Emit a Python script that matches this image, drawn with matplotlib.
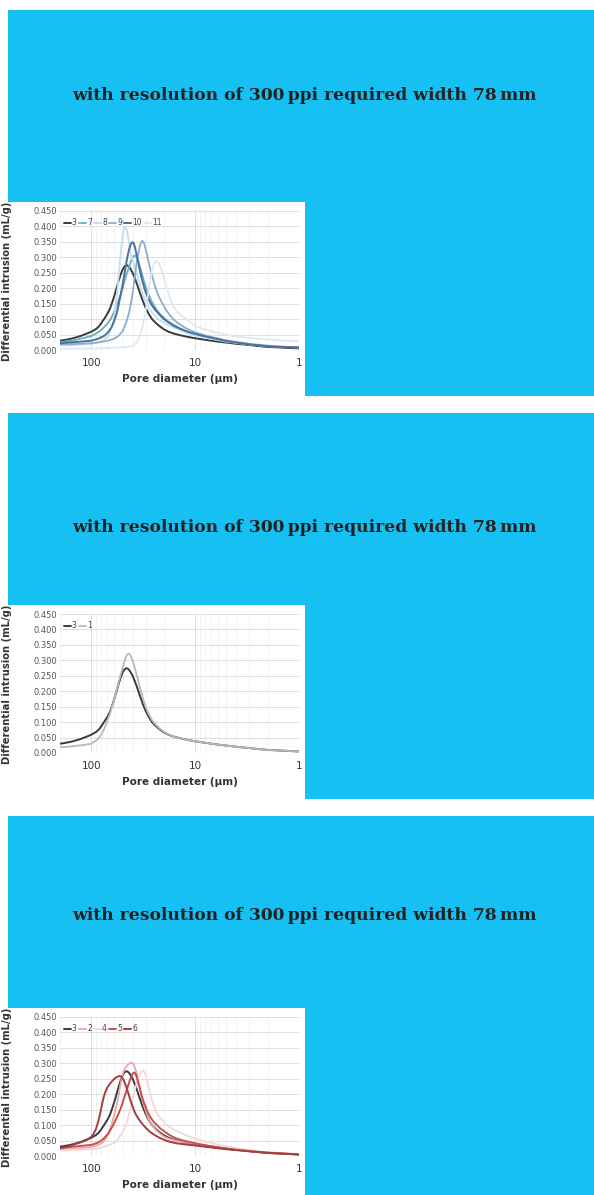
import numpy as np
import matplotlib
matplotlib.use('Agg')
import matplotlib.pyplot as plt
from matplotlib.patches import Rectangle
from matplotlib.ticker import LogLocator, NullFormatter, FixedLocator

# 数据：孔径 (µm) 与微分进汞量 (mL/g)
d3 = [200, 170, 150, 125, 100, 90, 85, 80, 75, 70, 66, 62, 58, 55, 52, 50, 48, 46.5, 45, 43.5, 42, 40, 38, 36, 34, 32,
      30, 28, 26, 24, 22, 20, 18, 16, 14, 12, 10, 8, 6, 5, 4, 3, 2.5, 2, 1.5, 1]
v3 = [0.030, 0.034, 0.038, 0.046, 0.059, 0.068, 0.075, 0.087, 0.101, 0.117, 0.134, 0.160, 0.192, 0.220, 0.245, 0.260,
      0.270, 0.274, 0.274, 0.270, 0.263, 0.250, 0.232, 0.210, 0.185, 0.160, 0.137, 0.117, 0.100, 0.088, 0.077, 0.067,
      0.059, 0.053, 0.048, 0.043, 0.038, 0.033, 0.027, 0.024, 0.020, 0.016, 0.013, 0.010, 0.008, 0.005]

d1 = [200, 170, 150, 125, 100, 90, 85, 80, 75, 70, 66, 62, 58, 55, 52, 50, 48, 46.5, 45, 43.5, 42, 40, 38, 36, 34, 32,
      30, 28, 26, 24, 22, 20, 18, 16, 14, 12, 10, 8, 6, 5, 4, 3, 2.5, 2, 1.5, 1]
v1 = [0.019, 0.020, 0.022, 0.025, 0.030, 0.040, 0.048, 0.060, 0.078, 0.105, 0.128, 0.158, 0.195, 0.225, 0.255, 0.275,
      0.295, 0.310, 0.320, 0.322, 0.317, 0.300, 0.274, 0.245, 0.212, 0.180, 0.150, 0.126, 0.106, 0.092, 0.080, 0.069,
      0.060, 0.053, 0.048, 0.043, 0.038, 0.033, 0.027, 0.024, 0.020, 0.016, 0.013, 0.010, 0.008, 0.005]

d7 = [200, 150, 125, 100, 90, 80, 70, 65, 60, 55, 52, 50, 47, 45, 43, 41, 39.5, 38, 36.5, 35, 33.5, 32, 30, 28, 26, 24,
      22, 20, 18, 16, 14, 12, 10, 8, 6, 5, 4, 3, 2, 1.5, 1]
v7 = [0.025, 0.031, 0.037, 0.045, 0.053, 0.065, 0.085, 0.100, 0.125, 0.158, 0.182, 0.200, 0.232, 0.252, 0.272, 0.292,
      0.303, 0.306, 0.300, 0.285, 0.262, 0.238, 0.205, 0.178, 0.155, 0.135, 0.118, 0.104, 0.092, 0.081, 0.070, 0.060,
      0.051, 0.043, 0.034, 0.029, 0.024, 0.018, 0.012, 0.010, 0.008]

d8 = [200, 150, 125, 100, 85, 75, 68, 63, 60, 57, 55, 53, 51, 49.5, 48, 47, 46, 45, 44, 43, 41.5, 40, 38, 36, 34, 32, 30,
      28, 26, 24, 22, 20, 18, 16, 14, 12, 10, 8, 6, 5, 4, 3, 2, 1]
v8 = [0.015, 0.016, 0.018, 0.020, 0.025, 0.033, 0.048, 0.075, 0.110, 0.170, 0.225, 0.285, 0.345, 0.380, 0.397, 0.399,
      0.394, 0.382, 0.362, 0.340, 0.310, 0.290, 0.265, 0.240, 0.212, 0.183, 0.158, 0.138, 0.122, 0.108, 0.097, 0.088,
      0.080, 0.072, 0.064, 0.055, 0.047, 0.040, 0.032, 0.027, 0.023, 0.018, 0.013, 0.008]

d9 = [200, 150, 100, 80, 69, 60, 55, 50, 47.5, 45, 43, 41, 39.5, 38, 36.5, 35, 34, 33, 32.4, 31.5, 30.5, 29.5, 28, 26.5,
      25, 24, 22.5, 21, 19.5, 18, 16.5, 15, 13.5, 12, 10, 8, 6, 5, 4, 3, 2, 1.5, 1]
v9 = [0.018, 0.019, 0.022, 0.026, 0.030, 0.037, 0.045, 0.060, 0.078, 0.100, 0.125, 0.160, 0.197, 0.240, 0.285, 0.318,
      0.338, 0.350, 0.353, 0.350, 0.338, 0.318, 0.283, 0.250, 0.220, 0.200, 0.175, 0.155, 0.135, 0.118, 0.102, 0.090,
      0.079, 0.069, 0.057, 0.047, 0.037, 0.031, 0.026, 0.020, 0.014, 0.011, 0.009]

d10 = [200, 150, 100, 85, 75, 69, 64, 60, 57, 55, 52, 50, 48, 46, 44, 42.5, 41, 40, 39, 38, 36.5, 35, 33.5, 32, 30.5, 29,
       27.5, 26, 24, 22, 20, 18, 16, 14, 12, 10, 8, 6, 5, 4, 3, 2, 1.5, 1]
v10 = [0.022, 0.025, 0.030, 0.037, 0.046, 0.057, 0.073, 0.095, 0.118, 0.140, 0.180, 0.210, 0.245, 0.282, 0.315, 0.335,
       0.347, 0.349, 0.345, 0.333, 0.307, 0.277, 0.247, 0.220, 0.195, 0.175, 0.158, 0.144, 0.128, 0.114, 0.100, 0.089,
       0.078, 0.069, 0.060, 0.052, 0.044, 0.035, 0.029, 0.024, 0.018, 0.012, 0.010, 0.008]

d11 = [200, 150, 100, 70, 55, 45, 40, 37, 35, 33, 31.5, 30, 29, 28, 27, 26, 25, 24, 23.5, 22.8, 22, 21, 20, 19, 18, 17,
       16, 15, 14, 13, 12, 11, 10, 8, 6, 5, 4, 3, 2, 1.5, 1]
v11 = [0.004, 0.004, 0.005, 0.006, 0.008, 0.010, 0.013, 0.022, 0.038, 0.060, 0.089, 0.125, 0.160, 0.195, 0.232, 0.258,
       0.276, 0.286, 0.288, 0.286, 0.276, 0.258, 0.235, 0.208, 0.182, 0.155, 0.138, 0.125, 0.115, 0.107, 0.098, 0.088,
       0.078, 0.066, 0.055, 0.049, 0.044, 0.039, 0.034, 0.031, 0.028]

d2 = [200, 150, 100, 85, 77, 72, 68, 64, 60, 57, 55, 53, 51, 49, 47, 45, 43, 41.5, 40, 38.5, 37, 35.5, 34, 32.5, 31, 29.5,
      28, 26, 24, 22, 20, 18, 15, 12, 10, 8, 6, 5, 4, 3, 2, 1]
v2 = [0.020, 0.023, 0.029, 0.036, 0.045, 0.058, 0.074, 0.100, 0.135, 0.165, 0.190, 0.222, 0.250, 0.272, 0.285, 0.294,
      0.300, 0.302, 0.300, 0.292, 0.274, 0.250, 0.220, 0.190, 0.163, 0.140, 0.120, 0.100, 0.085, 0.073, 0.063, 0.056,
      0.049, 0.043, 0.039, 0.034, 0.028, 0.024, 0.020, 0.016, 0.011, 0.005]

d4 = [200, 150, 100, 88, 75, 62, 55, 50, 46, 43.6, 41, 38, 36, 34, 33, 31.8, 30.8, 29.7, 28.5, 27, 25.5, 24, 23, 21,
      18.8, 16.5, 14.2, 12, 10, 8, 6, 5, 4, 3, 2, 1]
v4 = [0.018, 0.020, 0.022, 0.024, 0.030, 0.040, 0.055, 0.077, 0.105, 0.131, 0.165, 0.215, 0.245, 0.264, 0.274, 0.278,
      0.272, 0.259, 0.232, 0.200, 0.170, 0.148, 0.135, 0.118, 0.100, 0.088, 0.077, 0.066, 0.056, 0.047, 0.037, 0.031,
      0.025, 0.019, 0.012, 0.006]

d5 = [200, 150, 100, 88, 80, 75, 68, 62, 58, 55, 52, 50, 47, 45, 43, 41.5, 40, 39, 38, 37, 36, 34.5, 33, 31.5, 30, 28.6,
      27, 25, 23, 21.6, 19.5, 17.5, 15.2, 13, 10, 8, 6, 5, 4, 3, 2, 1]
v5 = [0.025, 0.030, 0.036, 0.042, 0.050, 0.058, 0.075, 0.098, 0.118, 0.135, 0.155, 0.172, 0.200, 0.220, 0.240, 0.255,
      0.266, 0.270, 0.269, 0.262, 0.248, 0.225, 0.200, 0.178, 0.160, 0.142, 0.126, 0.110, 0.098, 0.089, 0.078, 0.067,
      0.057, 0.050, 0.041, 0.035, 0.028, 0.024, 0.020, 0.016, 0.011, 0.005]

d6 = [200, 178, 150, 125, 110, 100, 95, 90, 86, 82, 79, 76, 73, 70, 66, 62, 58, 55, 53, 51, 49, 47, 45, 43, 41, 39, 37,
      35, 33, 30, 27, 24, 22, 19.5, 17.5, 15, 12, 10, 8, 6, 5, 4, 3, 2, 1]
v6 = [0.025, 0.029, 0.036, 0.045, 0.052, 0.062, 0.072, 0.088, 0.110, 0.138, 0.165, 0.190, 0.208, 0.222, 0.234, 0.245,
      0.254, 0.258, 0.259, 0.256, 0.247, 0.232, 0.214, 0.192, 0.170, 0.150, 0.133, 0.120, 0.108, 0.092, 0.077, 0.066,
      0.059, 0.051, 0.046, 0.041, 0.037, 0.034, 0.030, 0.025, 0.022, 0.019, 0.015, 0.010, 0.005]

yticks = [0.0, 0.05, 0.10, 0.15, 0.20, 0.25, 0.30, 0.35, 0.40, 0.45]
xticks = [100, 10, 1]

# 每个面板: (标签, x, y, 颜色, 线宽)
panel1 = [('3', d3, v3, '#3a3a3a', 1.4), ('7', d7, v7, '#5fb2c8', 1.3),
          ('8', d8, v8, '#bfe1ed', 1.3), ('9', d9, v9, '#8badd1', 1.3),
          ('10', d10, v10, '#4f6e97', 1.4), ('11', d11, v11, '#dce8f2', 1.3)]
panel2 = [('3', d3, v3, '#3a3a3a', 1.4), ('1', d1, v1, '#b9b9b9', 1.3)]
panel3 = [('3', d3, v3, '#3a3a3a', 1.4), ('2', d2, v2, '#eaa8a8', 1.3),
          ('4', d4, v4, '#f3d8d8', 1.3), ('5', d5, v5, '#c9504e', 1.4),
          ('6', d6, v6, '#a33e3e', 1.4)]

W, H = 594, 1195
CYAN = '#17c0f2'
fig = plt.figure(figsize=(W / 100, H / 100), dpi=100)


def rect(x0, y0, x1, y1, color, z):
    # 像素坐标(上为原点) -> 图坐标
    fig.patches.append(Rectangle((x0 / W, 1 - y1 / H), (x1 - x0) / W, (y1 - y0) / H,
                                 transform=fig.transFigure, facecolor=color,
                                 edgecolor='none', zorder=z))


def draw_panel(top, text_y, series):
    rect(8, top, 594, top + 386, CYAN, 0)
    fig.text(304 / W, 1 - text_y / H,
             'with resolution of 300\u2009ppi required width 78\u2009mm',
             ha='center', va='center', fontsize=12.3, fontweight='bold',
             family='DejaVu Serif', color='#222222')
    box = top + 192
    rect(8, box, 305, box + 194, 'white', 1)
    ax = fig.add_axes([60 / W, 1 - (box + 148) / H, 239 / W, 139 / H])
    ax.set_zorder(2)
    for name, x, y, c, lw in series:
        ax.plot(x, y, color=c, lw=lw, label=name, solid_capstyle='round',
                solid_joinstyle='round')
    ax.set_xscale('log')
    ax.set_xlim(200, 1)
    ax.set_ylim(0, 0.45)
    ax.xaxis.set_major_locator(FixedLocator(xticks))
    ax.set_xticklabels([str(t) for t in xticks])
    ax.xaxis.set_minor_locator(LogLocator(base=10, subs=np.arange(2, 10)))
    ax.xaxis.set_minor_formatter(NullFormatter())
    ax.set_yticks(yticks)
    ax.set_yticklabels(['%.3f' % t for t in yticks])
    ax.grid(True, which='major', color='#d9d9d9', lw=0.6)
    ax.grid(True, which='minor', axis='x', color='#efefef', lw=0.5)
    ax.set_axisbelow(True)
    for s in ax.spines.values():
        s.set_visible(False)
    ax.tick_params(which='both', length=0)
    ax.tick_params(axis='y', labelsize=6, labelcolor='#555555', pad=2)
    ax.tick_params(axis='x', labelsize=7.5, labelcolor='#333333', pad=6)
    ax.set_xlabel('Pore diameter (\u00b5m)', fontsize=7.5, fontweight='bold',
                  color='#333333', labelpad=4)
    fig.text(7 / W, 1 - (box + 79) / H, 'Differential intrusion (mL/g)',
             rotation=90, ha='center', va='center', fontsize=7.2,
             fontweight='bold', color='#333333', zorder=3)
    ax.legend(loc='upper left', bbox_to_anchor=(0.0, 0.975), ncol=len(series),
              frameon=False, fontsize=5.5, handlelength=0.9, handletextpad=0.15,
              columnspacing=0.3, borderaxespad=0.1, labelcolor='#444444')
    return ax


draw_panel(10, 95, panel1)
draw_panel(413, 527, panel2)
draw_panel(816, 916, panel3)

fig.savefig('out.png', dpi=100)
